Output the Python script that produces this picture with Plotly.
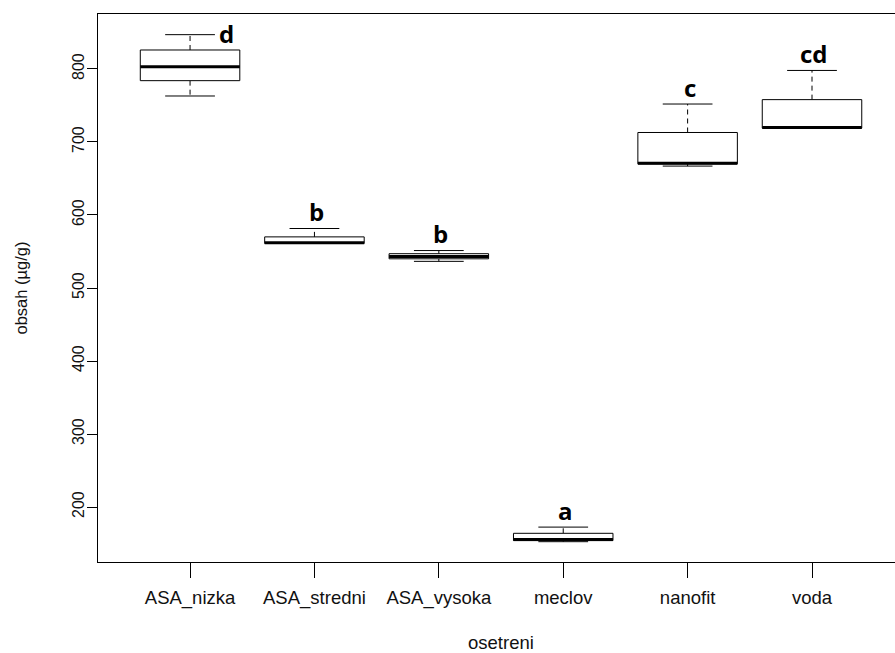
import plotly.graph_objects as go

categories = ["ASA_nizka", "ASA_stredni", "ASA_vysoka", "meclov", "nanofit", "voda"]
lower_whisker = [763, 561, 536.5, 152.5, 667, 719]
q1_values = [784, 561, 540, 154, 670, 719]
median_values = [803, 562, 543, 155.5, 671, 720]
q3_values = [826, 570, 547, 164, 713, 758]
upper_whisker = [847, 581.5, 551.3, 172.5, 752, 798]
group_letters = ["d", "b", "b", "a", "c", "cd"]
y_ticks = [200, 300, 400, 500, 600, 700, 800]

HALF_BOX = 0.4
HALF_CAP = 0.2
FONT = "Liberation Sans, Arial, sans-serif"

positions = list(range(1, len(categories) + 1))

bx, by = [], []
mx, my = [], []
wx, wy = [], []
cx, cy = [], []
for p, lo, a, m, b, hi in zip(positions, lower_whisker, q1_values, median_values, q3_values, upper_whisker):
    bx += [p - HALF_BOX, p + HALF_BOX, p + HALF_BOX, p - HALF_BOX, p - HALF_BOX, None]
    by += [a, a, b, b, a, None]
    mx += [p - HALF_BOX, p + HALF_BOX, None]
    my += [m, m, None]
    wx += [p, p, None, p, p, None]
    wy += [b, hi, None, a, lo, None]
    cx += [p - HALF_CAP, p + HALF_CAP, None, p - HALF_CAP, p + HALF_CAP, None]
    cy += [hi, hi, None, lo, lo, None]

fig = go.Figure()
fig.add_trace(go.Scatter(x=wx, y=wy, mode="lines", line=dict(color="black", width=1, dash="5px,4px"),
                         hoverinfo="skip", showlegend=False))
fig.add_trace(go.Scatter(x=cx, y=cy, mode="lines", line=dict(color="black", width=1),
                         hoverinfo="skip", showlegend=False))
fig.add_trace(go.Scatter(x=bx, y=by, mode="lines", fill="toself", fillcolor="white",
                         line=dict(color="black", width=1), hoverinfo="skip", showlegend=False))
fig.add_trace(go.Scatter(x=mx, y=my, mode="lines", line=dict(color="black", width=3),
                         hoverinfo="skip", showlegend=False))

for i, (p, hi, lab) in enumerate(zip(positions, upper_whisker, group_letters)):
    if i == 0:
        fig.add_annotation(x=p, y=hi, text=lab, showarrow=False, xanchor="left", yanchor="middle",
                           xshift=27, yshift=1,
                           font=dict(family="Open Sans", size=24, color="black", weight="bold"))
    else:
        fig.add_annotation(x=p, y=hi, text=lab, showarrow=False, xanchor="center", yanchor="middle",
                           xshift=2, yshift=17,
                           font=dict(family="Open Sans", size=24, color="black", weight="bold"))

fig.add_annotation(x=3.5, y=0, xref="x", yref="paper", text="osetreni", showarrow=False,
                   yanchor="middle", yshift=-80, font=dict(family=FONT, size=18.5, color="#111"))

fig.update_layout(
    width=895, height=653,
    margin=dict(l=98, r=0, t=14, b=91),
    paper_bgcolor="white", plot_bgcolor="white",
    xaxis=dict(range=[0.26, 1 + (895 - 190) / 124.4], tickvals=positions, ticktext=categories,
               showgrid=False, zeroline=False, showline=True, mirror=True, linecolor="black", linewidth=1,
               ticks="outside", ticklen=15, tickcolor="black", tickwidth=1,
               tickfont=dict(family=FONT, size=18.5, color="#111"), ticklabelstandoff=4),
    yaxis=dict(range=[124.7, 875.3], tickvals=y_ticks, tickangle=-90,
               showgrid=False, zeroline=False, showline=True, mirror=True, linecolor="black", linewidth=1,
               ticks="outside", ticklen=10, tickcolor="black", tickwidth=1,
               tickfont=dict(family=FONT, size=16, color="#111"), ticklabelstandoff=-3,
               title=dict(text="obsah (µg/g)", font=dict(family=FONT, size=16.5, color="#111"), standoff=37)),
)

fig.write_html("out.html", config={"displayModeBar": False},
               post_script="document.body.style.margin='0';document.body.style.overflow='hidden';")
